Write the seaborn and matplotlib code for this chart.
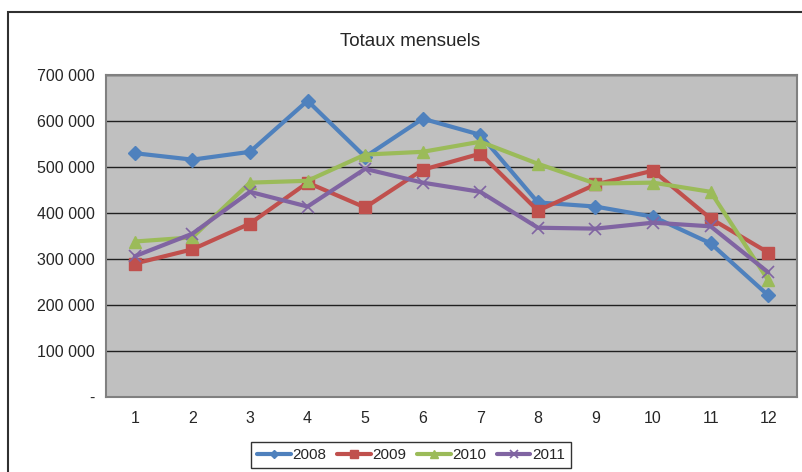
import pandas as pd
import numpy as np
import seaborn as sns
import matplotlib.pyplot as plt
from matplotlib.ticker import FuncFormatter
from matplotlib.patches import Rectangle

# monthly totals
mois = list(range(1, 13))
v2008 = [530000, 516000, 533000, 644000, 522000, 605000, 570000, 423000, 414000, 392000, 334000, 221000]
v2009 = [290000, 321000, 377000, 466000, 412000, 494000, 529000, 405000, 462000, 492000, 388000, 314000]
v2010 = [338000, 347000, 466000, 470000, 527000, 533000, 555000, 507000, 464000, 466000, 446000, 254000]
v2011 = [306000, 355000, 446000, 414000, 496000, 466000, 446000, 368000, 366000, 379000, 371000, 271000]
annees = ['2008', '2009', '2010', '2011']

df = pd.DataFrame({'mois': mois * 4,
                   'total': v2008 + v2009 + v2010 + v2011,
                   'annee': [a for a in annees for _ in mois]})

sns.set_style('white')
plt.rcParams['font.family'] = ['Liberation Sans', 'DejaVu Sans']

palette = {'2008': '#4F81BD', '2009': '#C0504D', '2010': '#9BBB59', '2011': '#8064A2'}
markers = {'2008': 'D', '2009': 's', '2010': '^', '2011': 'x'}
msizes = {'2008': 7, '2009': 8.5, '2010': 9, '2011': 9}

fig = plt.figure(figsize=(8.03, 4.72), dpi=100)
ax = fig.add_axes([106 / 803, 1 - 397 / 472, 691 / 803, 322 / 472])
ax.set_facecolor('#C0C0C0')

# one call per year: seaborn won't mix filled and line markers in one style map
for a in annees:
    sub = df[df['annee'] == a]
    sns.lineplot(data=sub, x='mois', y='total', color=palette[a], marker=markers[a],
                 linewidth=3, markersize=msizes[a],
                 markeredgewidth=1 if a != '2011' else 1.2,
                 markeredgecolor=palette[a], label=a, ax=ax)

ax.set_xlim(0.5, 12.5)
ax.set_ylim(0, 700000)
ax.set_xticks(mois)
ax.set_yticks(range(0, 700001, 100000))
ax.yaxis.set_major_formatter(FuncFormatter(lambda v, p: '-' if v == 0 else f'{int(v):,}'.replace(',', ' ')))
ax.grid(axis='y', color='#202020', linewidth=1)
ax.set_axisbelow(True)
ax.tick_params(labelsize=11.5, length=0, pad=8)
ax.tick_params(axis='x', pad=10)
for s in ax.spines.values():
    s.set_color('#808080')
    s.set_linewidth(1.5)
ax.set_xlabel('')
ax.set_ylabel('')

fig.text(410 / 803, 1 - 42 / 472, 'Totaux mensuels', ha='center', va='center', fontsize=13.5)

h, l = ax.get_legend_handles_labels()
ax.legend(h, l, ncol=4, loc='center', bbox_to_anchor=(411 / 803, 1 - 455 / 472),
          bbox_transform=fig.transFigure, frameon=True, fancybox=False, edgecolor='black',
          fontsize=11, handlelength=2.2, handletextpad=0.1, columnspacing=0.7,
          borderpad=0.4, markerscale=0.6)

# outer chart frame (right and bottom edges are cut off)
fig.patches.append(Rectangle((8 / 803, -0.1), 1.1, 1 - 12 / 472 + 0.1, transform=fig.transFigure,
                             fill=False, edgecolor='#303030', linewidth=1.5))

fig.savefig('out.png', dpi=100)
